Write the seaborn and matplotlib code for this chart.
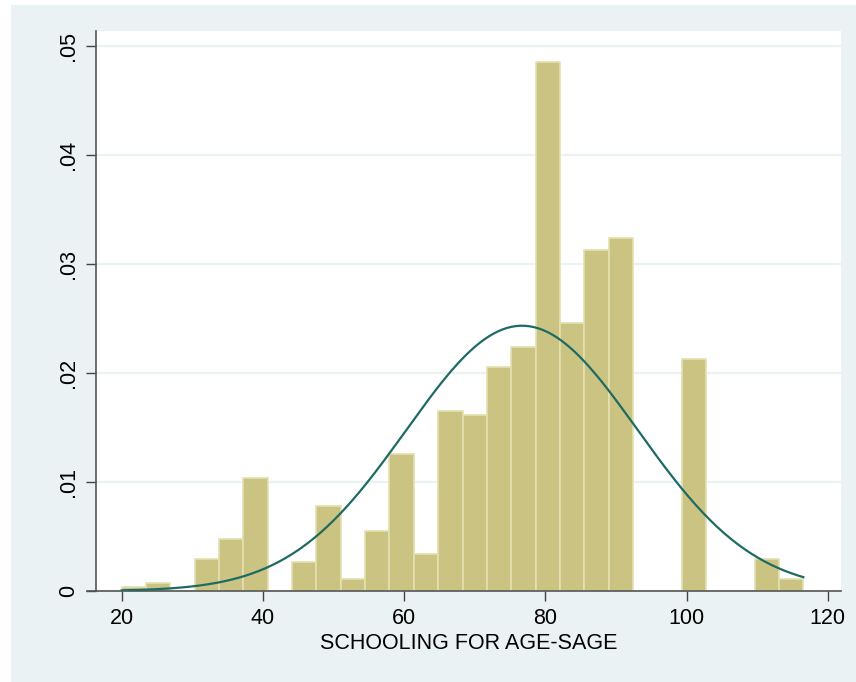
import numpy as np
import pandas as pd
import matplotlib
matplotlib.use("Agg")
import matplotlib.pyplot as plt
from matplotlib.patches import Rectangle
import seaborn as sns

# histogram bins (density per bin)
bin_start = 20.0
bin_width = 3.448
density = [0.00035, 0.00070, 0.0, 0.00298, 0.00477, 0.01037, 0.0,
           0.00262, 0.00775, 0.00114, 0.00554, 0.01258, 0.00335, 0.01650,
           0.01617, 0.02050, 0.02238, 0.04853, 0.02462, 0.03126, 0.03236,
           0.0, 0.0, 0.02128, 0.0, 0.0, 0.00291, 0.00107]

# normal overlay
norm_mean = 76.7
norm_sd = 16.4

x_ticks = [20, 40, 60, 80, 100, 120]
y_ticks = [0, 0.01, 0.02, 0.03, 0.04, 0.05]
y_tick_labels = ["0", ".01", ".02", ".03", ".04", ".05"]
x_title = "SCHOOLING FOR AGE-SAGE"

edges = bin_start + bin_width * np.arange(len(density) + 1)
centers = (edges[:-1] + edges[1:]) / 2
df = pd.DataFrame({"x": centers, "d": density})

xs = np.linspace(edges[0], edges[-1], 300)
curve = pd.DataFrame({
    "x": xs,
    "y": np.exp(-0.5 * ((xs - norm_mean) / norm_sd) ** 2) / (norm_sd * np.sqrt(2 * np.pi)),
})

plt.rcParams["font.family"] = ["Liberation Sans", "DejaVu Sans"]

bg = "#EAF2F3"
fig = plt.figure(figsize=(8.56, 6.82), dpi=100)
fig.patches.append(Rectangle((11 / 856, 0), 1 - 11 / 856, 1 - 5 / 682,
                             transform=fig.transFigure, facecolor=bg,
                             edgecolor="none", zorder=-5))
ax = fig.add_axes([96 / 856, 1 - 591 / 682, 745 / 856, 560 / 682])
ax.set_zorder(2)
ax.set_facecolor("white")

sns.histplot(data=df, x="x", weights="d", bins=list(edges), stat="count",
             color="#CBC382", edgecolor="#E4E0B0", linewidth=1.2, alpha=1,
             ax=ax, zorder=2)
sns.lineplot(data=curve, x="x", y="y", color="#1E6B63", linewidth=1.6,
             ax=ax, zorder=3)

ax.set_xlim(16.36, 121.88)
ax.set_ylim(0, 0.05135)
ax.set_xticks(x_ticks)
ax.set_xticklabels([str(t) for t in x_ticks])
ax.set_yticks(y_ticks)
ax.set_yticklabels(y_tick_labels, rotation=90, va="center")
ax.yaxis.grid(True, color=bg, linewidth=1.6, zorder=0)
ax.set_axisbelow(True)
ax.tick_params(axis="both", length=7, width=1, color="#444444",
               labelsize=15.5, labelcolor="black", pad=5)

for side in ["top", "right"]:
    ax.spines[side].set_visible(False)
for side in ["left", "bottom"]:
    ax.spines[side].set_color("#555555")
    ax.spines[side].set_linewidth(1.2)
# x axis line runs a little past the y axis, as in Stata
ax.spines["bottom"].set_bounds(15.1, 121.88)

ax.set_xlabel(x_title, fontsize=15.5, labelpad=3)
ax.set_ylabel("")

fig.savefig("out.png", dpi=100)
